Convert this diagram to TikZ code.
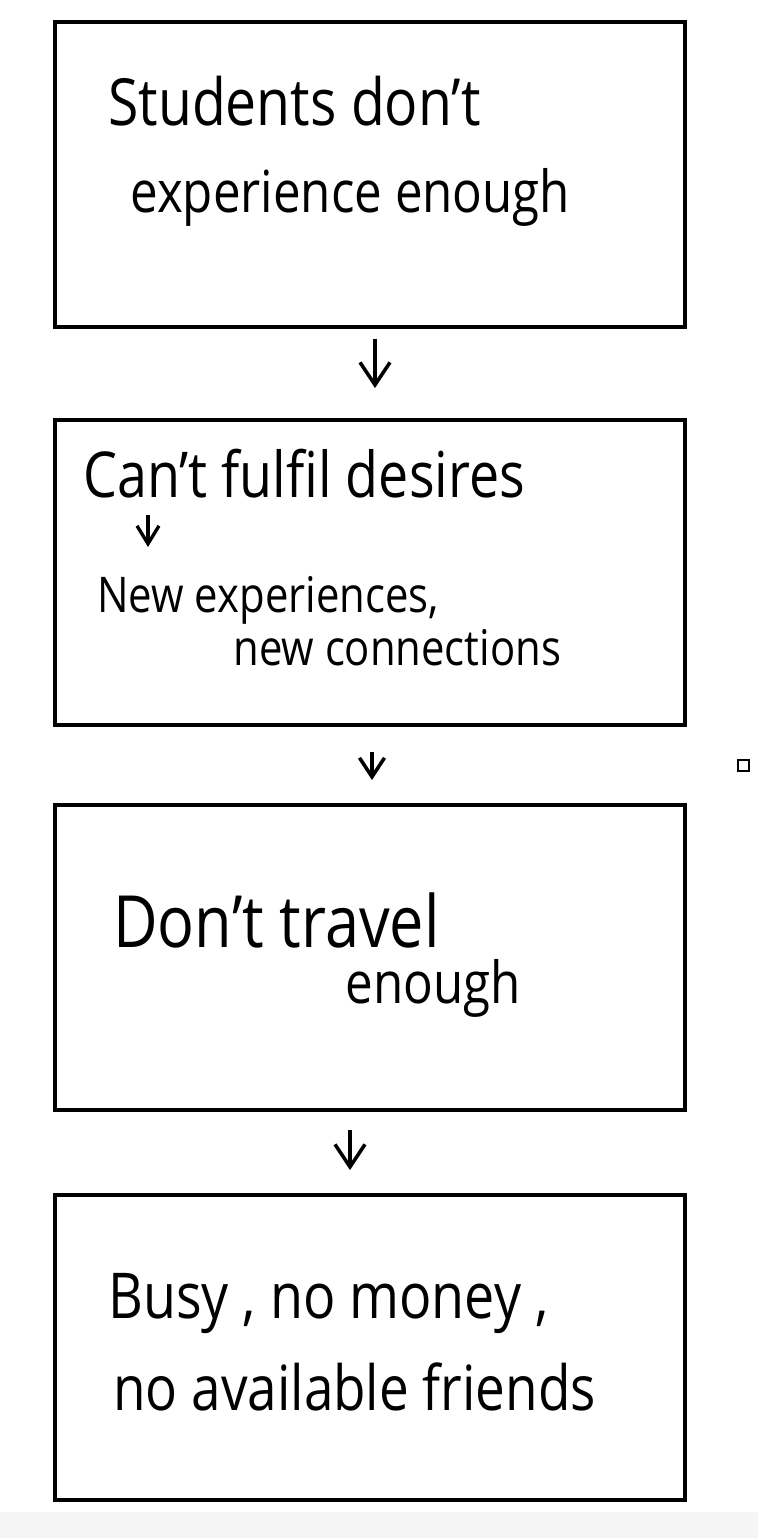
\documentclass[tikz,border=0pt]{standalone}
\usepackage{fontspec}
\setmainfont{Open Sans}[FakeStretch=0.85]
\usepackage{tikz}
\usetikzlibrary{arrows.meta, positioning}

\begin{document}
\begin{tikzpicture}[x=0.02cm, y=-0.02cm,
    panel/.style={draw, line width=2.3pt, minimum width=12.6cm, minimum height=6.1cm, inner sep=0pt},
    flow/.style={line width=2pt, -{Straight Barb[length=0.45cm, width=0.6cm, line width=2pt]}},
    big/.style={font=\fontsize{37}{42}\selectfont, anchor=base west, inner sep=0pt},
    mid/.style={font=\fontsize{36}{40}\selectfont, anchor=base west, inner sep=0pt},
    small/.style={font=\fontsize{28}{32}\selectfont, anchor=base west, inner sep=0pt}]
  \useasboundingbox (0,0) rectangle (758,1538);
  \fill[black!4] (0,1512) rectangle (758,1538);
  % boxes
  \node[panel] (box1) at (370,174.5) {};
  \node[panel] (box2) at (370,572.5) {};
  \node[panel] (box3) at (370,957.5) {};
  \node[panel] (box4) at (370,1347.5) {};
  % box 1
  \node[big] (t1a) at (108,125) {Students don't};
  \node[big, font=\fontsize{33}{38}\selectfont] (t1b) at (130,212) {experience enough};
  % box 2
  \node[mid] (t2a) at (83,497) {Can't fulfil desires};
  \coordinate (s2a) at (148,515);
  \coordinate (s2b) at (148,547);
  \draw[flow, line width=1.9pt, -{Straight Barb[length=0.36cm, width=0.44cm, line width=1.9pt]}] (s2a) -- (s2b);
  \node[small] (t2b) at (97,612) {New experiences,};
  \node[small] (t2c) at (233,665) {new connections};
  % box 3
  \node[big, font=\fontsize{41}{46}\selectfont] (t3a) at (113,947) {Don't travel};
  \node[big, font=\fontsize{33}{38}\selectfont] (t3b) at (345,1003) {enough};
  % box 4
  \node[mid] (t4a) at (108,1318) {Busy , no money ,};
  \node[mid, font=\fontsize{35.5}{40}\selectfont] (t4b) at (113,1410) {no available friends};
  % arrows
  \draw[flow, shorten <=0.2cm, shorten >=0.6cm] ([xshift=0.1cm]box1.south) -- ([xshift=0.1cm]box2.north);
  \draw[flow, shorten <=0.5cm, shorten >=0.46cm, -{Straight Barb[length=0.38cm, width=0.5cm, line width=2pt]}] ([xshift=0.04cm]box2.south) -- ([xshift=0.04cm]box3.north);
  \draw[flow, shorten <=0.36cm, shorten >=0.46cm] ([xshift=-0.4cm]box3.south) -- ([xshift=-0.4cm]box4.north);
  % stray mark
  \draw[line width=0.6pt] (738,760) rectangle (749,771);
\end{tikzpicture}
\end{document}
